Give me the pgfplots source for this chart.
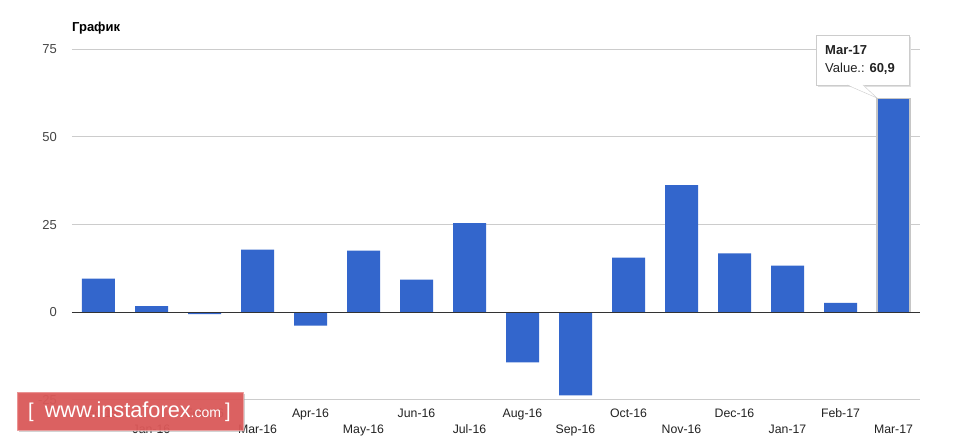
\documentclass[border=0pt]{standalone}
\usepackage{fontspec}
\setmainfont{Liberation Sans}
\usepackage{pgfplots}
\pgfplotsset{compat=1.18}
\definecolor{barblue}{HTML}{3366CC}
\definecolor{gridgray}{HTML}{CCCCCC}
\definecolor{ticklab}{HTML}{444444}
\definecolor{xlab}{HTML}{222222}
\definecolor{wmred}{HTML}{DD5555}
\begin{document}
\begin{tikzpicture}[x=1pt,y=1pt]
\path[use as bounding box, fill=white] (0,0) rectangle (954,443);
\begin{axis}[
  at={(72pt,43pt)}, anchor=south west,
  scale only axis, width=848pt, height=350.7pt,
  xmin=-0.5, xmax=15.5, ymin=-25, ymax=75,
  enlargelimits=false, clip=false,
  axis line style={draw=none},
  tick style={draw=none},
  ytick={-25,0,25,50,75},
  ymajorgrids, grid style={gridgray, line width=1pt},
  xtick={0,2,...,14},
  xticklabels={Dec-15,Feb-16,Apr-16,Jun-16,Aug-16,Oct-16,Dec-16,Feb-17},
  extra x ticks={1,3,...,15},
  extra x tick labels={Jan-16,Mar-16,May-16,Jul-16,Sep-16,Nov-16,Jan-17,Mar-17},
  extra x tick style={xticklabel style={yshift=-16pt}},
  xticklabel style={anchor=base, yshift=-18pt, inner sep=0pt, text=xlab, font=\fontsize{12.3}{14}\selectfont},
  yticklabel style={anchor=east, xshift=-15pt, inner sep=0pt, text=ticklab, font=\fontsize{13}{15}\selectfont},
  /pgf/number format/assume math mode=true,
]
\addplot[ybar, bar width=33pt, bar shift=0pt, fill=barblue, draw=none] coordinates {
(0,9.6) (1,1.8) (2,-0.5) (3,17.9) (4,-3.8) (5,17.6) (6,9.3) (7,25.4)
(8,-14.3) (9,-23.7) (10,15.6) (11,36.3) (12,16.8) (13,13.3) (14,2.7) (15,60.9)
};
\addplot[ybar, bar width=33pt, bar shift=0pt, fill=barblue, draw=gray!45, line width=1.2pt] coordinates {(15,60.9)};
\draw[color=black!80, line width=1.3pt] (axis cs:-0.5,0) -- (axis cs:15.5,0);
\end{axis}
% title
\node[anchor=base west, inner sep=0pt, font=\bfseries\fontsize{13}{15}\selectfont] at (72,411) {График};
% tooltip
\fill[black!12] (818,406) rectangle (911,356);
\draw[gridgray, fill=white] (816,408) rectangle (909,358);
\fill[white] (847,358.6) -- (877,345) -- (863,358.6) -- cycle;
\draw[gridgray] (847,358) -- (877,345) -- (863,358);
\node[anchor=base west, inner sep=0pt, text=xlab, font=\bfseries\fontsize{13}{15}\selectfont] at (825,388) {Mar-17};
\node[anchor=base west, inner sep=0pt, text=xlab, font=\fontsize{13}{15}\selectfont] at (825,370) {Value.: \textbf{60,9}};
% watermark
\fill[black!35, opacity=0.5] (19,11) rectangle (245,49);
\fill[wmred, opacity=0.9, draw=white!40!wmred] (17,13) rectangle (243,51);
\node[anchor=base west, inner sep=0pt, text=white] at (28,25) {\fontsize{20}{22}\selectfont[\hspace{11pt}\fontsize{21.7}{24}\selectfont www.instaforex\fontsize{14}{16}\selectfont.com\hspace{4pt}\fontsize{20}{22}\selectfont]};
\end{tikzpicture}
\end{document}
